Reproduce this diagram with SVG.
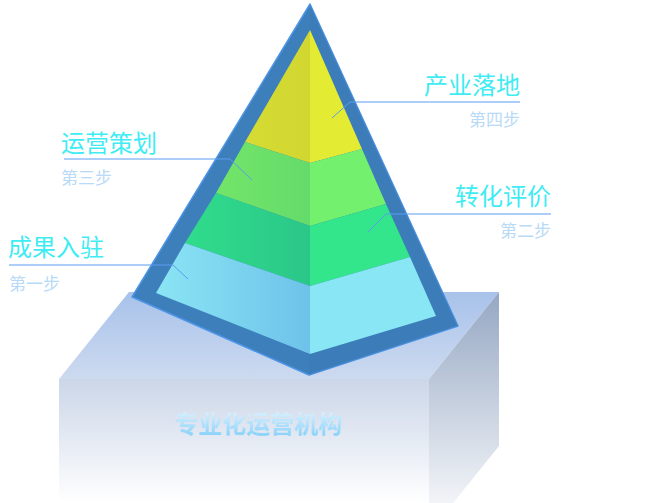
<svg xmlns="http://www.w3.org/2000/svg" width="660" height="503" viewBox="0 0 660 503">
  <defs>
    <linearGradient id="gTop" x1="0" y1="0" x2="0" y2="1">
      <stop offset="0" stop-color="#a8c2ea"/>
      <stop offset="1" stop-color="#cddaf0"/>
    </linearGradient>
    <linearGradient id="gFront" x1="0" y1="0" x2="0" y2="1">
      <stop offset="0" stop-color="#cbd6e8"/>
      <stop offset="1" stop-color="#ffffff"/>
    </linearGradient>
    <linearGradient id="gSide" x1="0" y1="0" x2="0" y2="1">
      <stop offset="0" stop-color="#95a7c3"/>
      <stop offset="1" stop-color="#ffffff"/>
    </linearGradient>
    <linearGradient id="gBlueL" x1="0" y1="0" x2="1" y2="0">
      <stop offset="0" stop-color="#8ae5f4"/>
      <stop offset="1" stop-color="#6ec2ea"/>
    </linearGradient>
    <linearGradient id="gLGreenL" x1="0" y1="0" x2="1" y2="0">
      <stop offset="0" stop-color="#72e568"/>
      <stop offset="1" stop-color="#65db6b"/>
    </linearGradient>
    <linearGradient id="gGreenL" x1="0" y1="0" x2="1" y2="0">
      <stop offset="0" stop-color="#30dc8b"/>
      <stop offset="1" stop-color="#2bc789"/>
    </linearGradient>
    <linearGradient id="gYellowL" x1="0" y1="0" x2="1" y2="0">
      <stop offset="0" stop-color="#d6dc33"/>
      <stop offset="1" stop-color="#d2d631"/>
    </linearGradient>
    <linearGradient id="gBoxText" x1="0" y1="0" x2="0" y2="1">
      <stop offset="0" stop-color="#eef8ff"/>
      <stop offset="1" stop-color="#7ccdf9"/>
    </linearGradient>
    <style>
      .title { font-family: "Noto Sans CJK SC", "Noto Sans", sans-serif; font-size: 24px; fill: #3fecf3; }
      .step { font-family: "Noto Sans CJK SC", "Noto Sans", sans-serif; font-size: 17px; fill: #b8daf7; }
      .lead { fill: none; stroke: #5a9cf0; stroke-width: 1; }
      .boxText { font-family: "Noto Sans CJK SC", "Noto Sans", sans-serif; font-size: 24px; font-weight: bold; fill: url(#gBoxText); }
    </style>
  </defs>

  <g id="base">
    <polygon points="59,379 129,292 499,292 429,379" fill="url(#gTop)"/>
    <polygon points="59,379 429,379 429,503 59,503" fill="url(#gFront)"/>
    <polygon points="429,379 499,292 499,446 429,533" fill="url(#gSide)"/>
    <text class="boxText" x="174" y="433">专业化运营机构</text>
  </g>

  <g id="pyramid">
    <polygon points="310,4 132,297 309,375 458,326" fill="#3d7fbb" stroke="#4d95e8" stroke-width="1.5" stroke-linejoin="round"/>
    <polygon points="310,4 309,375 458,326" fill="#3b7ab6" opacity="0.5"/>
  </g>

  <g id="layer4">
    <polygon points="310,30 245,142 310,163" fill="url(#gYellowL)"/>
    <polygon points="310,30 362,149 310,163" fill="#e3eb33"/>
  </g>
  <g id="layer3">
    <polygon points="245,142 216,193 310,226 310,163" fill="url(#gLGreenL)"/>
    <polygon points="362,149 386,204 310,226 310,163" fill="#72f06e"/>
  </g>
  <g id="layer2">
    <polygon points="216,193 185,243 310,286 310,226" fill="url(#gGreenL)"/>
    <polygon points="386,204 410,257 310,286 310,226" fill="#33e68b"/>
  </g>
  <g id="layer1">
    <polygon points="185,243 156,293 310,354 310,286" fill="url(#gBlueL)"/>
    <polygon points="410,257 436,316 310,354 310,286" fill="#88e6f5"/>
  </g>

  <g id="connectors">
    <path class="lead" d="M520,102 H350 L332,118"/>
    <path class="lead" d="M551,214 H386 L368,232"/>
    <path class="lead" d="M64,159 H230 L252,180"/>
    <path class="lead" d="M9,265 H173 L188,279"/>
  </g>

  <g id="label4">
    <text class="title" x="520" y="94" text-anchor="end">产业落地</text>
    <text class="step" x="520" y="126" text-anchor="end">第四步</text>
  </g>
  <g id="label2">
    <text class="title" x="551" y="205" text-anchor="end">转化评价</text>
    <text class="step" x="551" y="237" text-anchor="end">第二步</text>
  </g>
  <g id="label3">
    <text class="title" x="61" y="152">运营策划</text>
    <text class="step" x="61" y="184">第三步</text>
  </g>
  <g id="label1">
    <text class="title" x="8" y="256">成果入驻</text>
    <text class="step" x="9" y="290">第一步</text>
  </g>
</svg>
